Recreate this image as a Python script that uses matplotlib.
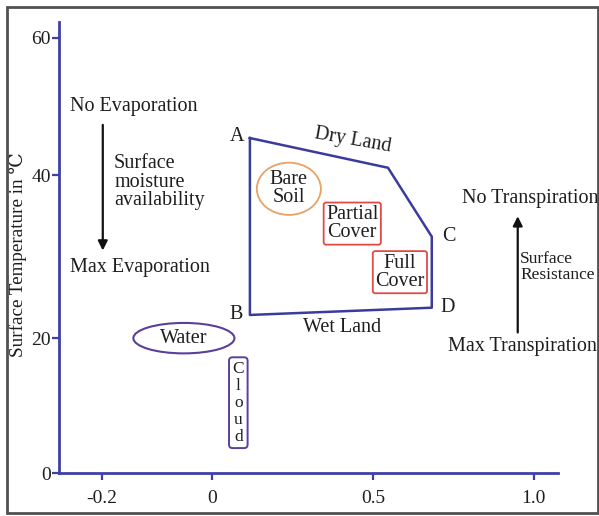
import matplotlib

matplotlib.use("Agg")

import matplotlib.pyplot as plt
from matplotlib.patches import Ellipse, Rectangle

# triangle/trapezoid space (vegetation index vs surface temperature)
corner_names = ["A", "top", "C", "D", "B"]
corner_x = [0.118, 0.547, 0.683, 0.683, 0.118]
corner_y = [46.2, 42.1, 32.6, 22.8, 21.8]

xtick_pos = [-0.342, 0.0, 0.5, 1.0]
xtick_labels = ["-0.2", "0", "0.5", "1.0"]
ytick_pos = [0.0, 18.6, 41.1, 60.0]
ytick_labels = ["0", "20", "40", "60"]

AXIS_BLUE = "#3f3fa8"
POLY_BLUE = "#3b3b9e"
PURPLE = "#5b3f9c"
RED = "#e04a46"
ORANGE = "#e8a266"
TXT = "#1e1e1e"
FS = 14.5

plt.rcParams["font.family"] = ["Liberation Serif", "DejaVu Serif"]

fig = plt.figure(figsize=(5.99, 5.16), dpi=100)
ax = fig.add_axes([0.0985, 0.0833, 0.833, 0.874])
ax.set_xlim(-0.475, 1.075)
ax.set_ylim(0, 62.2)

for s in ["top", "right"]:
    ax.spines[s].set_visible(False)
for s in ["left", "bottom"]:
    ax.spines[s].set_color(AXIS_BLUE)
    ax.spines[s].set_linewidth(2.0)

ax.set_xticks(xtick_pos, xtick_labels)
ax.set_yticks(ytick_pos, ytick_labels)
ax.tick_params(colors=AXIS_BLUE, width=1.6, length=5, labelsize=14,
               labelcolor=TXT)
ax.tick_params(axis="x", pad=7)
ax.tick_params(axis="y", pad=1)
ax.set_ylabel("Surface Temperature in ℃", fontsize=13.8, color=TXT)
ax.yaxis.set_label_coords(-0.064, 0.485)

# polygon
ax.plot(corner_x + corner_x[:1], corner_y + corner_y[:1], color=POLY_BLUE, lw=1.8)

kw = dict(color=TXT, fontsize=FS, ha="center", va="center")
ax.text(0.078, 46.4, "A", **kw)
ax.text(0.075, 21.9, "B", **kw)
ax.text(0.737, 32.6, "C", **kw)
ax.text(0.731, 22.8, "D", **kw)
ax.text(0.438, 45.9, "Dry Land", rotation=-10, **kw)
ax.text(0.404, 20.1, "Wet Land", **kw)

# evaporation side
ax.text(-0.242, 50.5, "No Evaporation", **kw)
ax.annotate("", xy=(-0.339, 30.3), xytext=(-0.339, 48.4),
            arrowprops=dict(arrowstyle="-|>", color="#111111", lw=1.6,
                            mutation_scale=14))
ax.text(-0.304, 40.1, "Surface\nmoisture\navailability", color=TXT,
        fontsize=FS, ha="left", va="center", linespacing=0.95)
ax.text(-0.224, 28.3, "Max Evaporation", **kw)

# transpiration side
ax.text(0.776, 37.8, "No Transpiration", color=TXT, fontsize=FS,
        ha="left", va="center")
ax.annotate("", xy=(0.950, 35.8), xytext=(0.950, 19.0),
            arrowprops=dict(arrowstyle="-|>", color="#111111", lw=1.6,
                            mutation_scale=14))
ax.text(0.957, 28.4, "Surface\nResistance", color=TXT, fontsize=12.5,
        ha="left", va="center", linespacing=0.95)
ax.text(0.733, 17.5, "Max Transpiration", color=TXT, fontsize=FS,
        ha="left", va="center")

# surface classes
ax.add_patch(Ellipse((0.239, 39.2), 0.199, 7.2, fill=False, ec=ORANGE, lw=1.3))
ax.text(0.239, 39.2, "Bare\nSoil", linespacing=0.95, **kw)
ax.text(0.436, 34.4, "Partial\nCover", linespacing=0.95,
        bbox=dict(boxstyle="round,pad=0.12", fc="none", ec=RED, lw=1.3), **kw)
ax.text(0.584, 27.7, "Full\nCover", linespacing=0.95,
        bbox=dict(boxstyle="round,pad=0.12", fc="none", ec=RED, lw=1.3), **kw)
ax.add_patch(Ellipse((-0.087, 18.6), 0.314, 4.2, fill=False, ec=PURPLE, lw=1.5))
ax.text(-0.087, 18.6, "Water", **kw)
ax.text(0.082, 9.7, "C\nl\no\nu\nd", linespacing=1.08,
        bbox=dict(boxstyle="round,pad=0.2", fc="none", ec=PURPLE, lw=1.4),
        **{**kw, "fontsize": 12.5})

fig.patches.append(Rectangle((0.0117, 0.006), 0.986, 0.980,
                             transform=fig.transFigure, fill=False,
                             ec="#505050", lw=2.0))

fig.savefig("out.png", dpi=100)
